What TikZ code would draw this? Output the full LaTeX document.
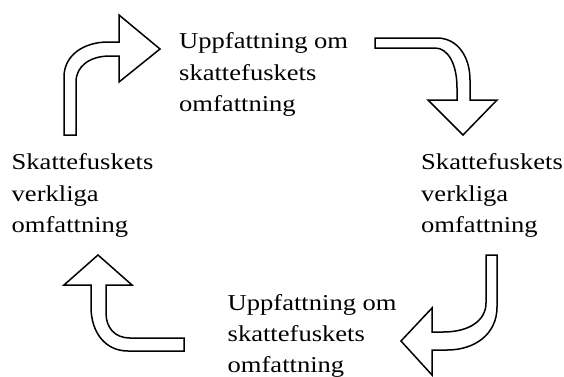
\documentclass[tikz,border=0pt]{standalone}
\usepackage{fontspec}
\setmainfont[FakeStretch=1.17]{Liberation Serif}
\begin{document}
\begin{tikzpicture}[x=1pt,y=-1pt,
  bentarrow/.style={draw=black,fill=white,line width=1.5pt,line join=miter},
  label/.style={anchor=north west,inner sep=0pt,align=left,
    font=\fontsize{22.7}{31.3}\selectfont}]
\useasboundingbox (0,0) rectangle (564,376);

% cycle labels
\node[label] (topview) at (179,32.8) {Uppfattning om\\skattefuskets\\omfattning};
\node[label] (rightreal) at (421,153.8) {Skattefuskets\\verkliga\\omfattning};
\node[label] (bottomview) at (227.5,294) {Uppfattning om\\skattefuskets\\omfattning};
\node[label] (leftreal) at (11.5,153.8) {Skattefuskets\\verkliga\\omfattning};

% upper left: up, then right
\draw[bentarrow] (64,135) -- (64,77) .. controls (64,55) and (84,42) .. (108,42)
  -- (119,42) -- (119,15) -- (160,49) -- (119,82) -- (119,56) -- (110,56)
  .. controls (90,56) and (76,66) .. (76,82) -- (76,135) -- cycle;

% upper right: right, then down
\draw[bentarrow] (375,38) -- (437,38) .. controls (457,38) and (470,56) .. (470,80)
  -- (470,100) -- (497,100) -- (463,135) -- (428,100) -- (457,100) -- (457,88)
  .. controls (457,64) and (448,48) .. (435,48) -- (375,48) -- cycle;

% lower right: down, then left
\draw[bentarrow] (486,255) -- (497,255) -- (497,307) .. controls (497,334) and (475,350) .. (447,350)
  -- (432,350) -- (432,375) -- (401,341) -- (432,308) -- (432,332) -- (443,332)
  .. controls (470,332) and (486,320) .. (486,303) -- cycle;

% lower left: left, then up
\draw[bentarrow] (184,338) -- (184,351) -- (128,351) .. controls (105,351) and (91,332) .. (91,307)
  -- (91,285) -- (64,285) -- (98,255) -- (132,285) -- (106,285) -- (106,313)
  .. controls (106,328) and (115,338) .. (130,338) -- cycle;
\end{tikzpicture}
\end{document}
